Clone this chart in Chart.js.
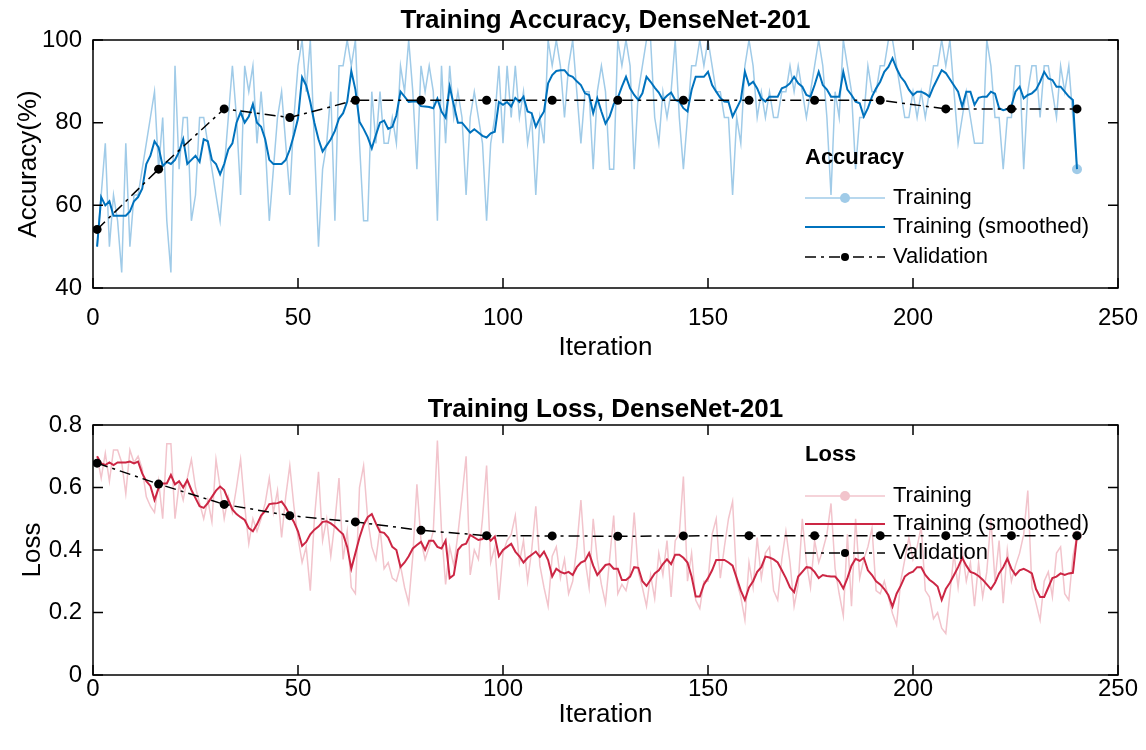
<!DOCTYPE html>
<html>
<head>
<meta charset="utf-8">
<script src="https://cdn.jsdelivr.net/npm/chart.js@4.4.1/dist/chart.umd.min.js"></script>
<style>
  html, body { margin: 0; padding: 0; background: #fff; }
  #wrap { position: relative; width: 1146px; height: 750px; }
  canvas { position: absolute; left: 0; }
</style>
</head>
<body>
<div id="wrap">
  <canvas id="accCanvas" width="1146" height="375" style="top:0"></canvas>
  <canvas id="lossCanvas" width="1146" height="375" style="top:375px"></canvas>
</div>
<script>
const FONT = "'Liberation Sans', Arial, Helvetica, sans-serif";

// tick labels
const xTicks = [0, 50, 100, 150, 200, 250];
const accTicks = [40, 60, 80, 100];
const lossTicks = [0, 0.2, 0.4, 0.6, 0.8];

// validation runs every 16 iterations
const valIters = [1, 16, 32, 48, 64, 80, 96, 112, 128, 144, 160, 176, 192, 208, 224, 240];
const valAcc = [54.17, 68.75, 83.33, 81.25, 85.42, 85.42, 85.42, 85.42, 85.42, 85.42, 85.42, 85.42, 85.42, 83.33, 83.33, 83.33];
const valLoss = [0.678, 0.611, 0.546, 0.510, 0.490, 0.463, 0.446, 0.445, 0.444, 0.445, 0.446, 0.446, 0.446, 0.446, 0.446, 0.446];

// training accuracy per iteration (1..240)
const trainAcc = [
  50, 62.5, 75, 50, 62.5, 56.25, 43.75, 75, 50, 62.5,
  62.5, 68.75, 75, 81.25, 87.5, 68.75, 81.25, 56.25, 43.75, 93.75,
  68.75, 81.25, 81.25, 56.25, 62.5, 81.25, 81.25, 75, 68.75, 62.5,
  56.25, 68.75, 81.25, 93.75, 81.25, 62.5, 93.75, 87.5, 93.75, 75,
  87.5, 75, 56.25, 68.75, 81.25, 87.5, 75, 62.5, 81.25, 93.75,
  100, 87.5, 100, 75, 50, 68.75, 75, 87.5, 56.25, 93.75,
  93.75, 100, 93.75, 100, 75, 56.25, 56.25, 87.5, 75, 87.5,
  75, 75, 81.25, 75, 93.75, 87.5, 100, 87.5, 68.75, 93.75,
  87.5, 93.75, 87.5, 56.25, 93.75, 75, 93.75, 81.25, 87.5, 81.25,
  62.5, 81.25, 87.5, 81.25, 75, 56.25, 75, 81.25, 93.75, 75,
  93.75, 81.25, 93.75, 81.25, 87.5, 75, 81.25, 62.5, 81.25, 75,
  100, 93.75, 100, 93.75, 81.25, 93.75, 100, 87.5, 75, 87.5,
  87.5, 68.75, 87.5, 93.75, 87.5, 68.75, 68.75, 100, 93.75, 100,
  93.75, 68.75, 87.5, 93.75, 100, 100, 81.25, 75, 87.5, 81.25,
  87.5, 100, 81.25, 68.75, 81.25, 93.75, 93.75, 100, 93.75, 100,
  93.75, 87.5, 87.5, 81.25, 81.25, 62.5, 81.25, 75, 93.75, 100,
  93.75, 81.25, 87.5, 81.25, 87.5, 81.25, 81.25, 87.5, 87.5, 93.75,
  87.5, 93.75, 87.5, 81.25, 87.5, 93.75, 100, 93.75, 81.25, 62.5,
  87.5, 81.25, 100, 93.75, 87.5, 68.75, 81.25, 81.25, 93.75, 87.5,
  87.5, 93.75, 93.75, 100, 100, 93.75, 87.5, 81.25, 81.25, 87.5,
  81.25, 87.5, 81.25, 87.5, 93.75, 93.75, 100, 93.75, 100, 87.5,
  75, 81.25, 87.5, 81.25, 75, 75, 75, 100, 93.75, 81.25,
  81.25, 68.75, 81.25, 81.25, 93.75, 93.75, 68.75, 87.5, 93.75, 93.75,
  81.25, 93.75, 93.75, 87.5, 81.25, 93.75, 87.5, 93.75, 81.25, 68.75
];

const smoothAcc = [
  50, 62, 60, 61, 57.5, 57.5, 57.5, 57.5, 58.5, 61,
  62, 64, 70, 72, 75.5, 74, 69.5, 70.5, 70, 71,
  73, 76, 70, 71, 72, 70.5, 76, 75.5, 71, 70,
  67.5, 70, 73.5, 75, 80, 82.5, 80, 81.5, 84.5, 80,
  79, 76, 71, 70, 70, 70, 71, 73.5, 77, 81,
  91, 89, 85, 80, 76, 73, 74.5, 76, 78, 81,
  82.3, 85.1, 92.5, 88, 80.2, 78.5, 76.5, 73.8, 77, 80,
  80.5, 78.5, 79, 81.8, 87.5, 86.3, 85, 85.1, 85.1, 84,
  83.9, 83.8, 83.5, 85.8, 82.7, 81.2, 88.7, 84.3, 80, 80,
  78.8, 77.6, 78.4, 77.6, 76.8, 76.4, 77.4, 77.8, 85, 84.3,
  85, 83.9, 86, 85, 86.3, 82.7, 82.3, 79, 81.1, 82.7,
  89.5, 91.5, 92.5, 92.7, 92.7, 91.5, 91.1, 90, 89.1, 87.1,
  86.7, 82.3, 85.9, 82.7, 79.8, 81.5, 84.5, 86, 88.7, 91.1,
  88.3, 86.7, 85.5, 87.1, 91.1, 89.9, 88.5, 87.3, 85.5, 86.5,
  87.3, 85.5, 85.1, 83.5, 82.7, 87.9, 91.1, 91.1, 91.1, 92.3,
  89.1, 87.5, 86, 85.1, 85, 81.5, 83.5, 85.5, 92.3, 89.1,
  89.9, 88.3, 85.9, 85.1, 86.3, 86.3, 86.3, 88.3, 88.7, 89.5,
  91.1, 89.5, 88.7, 86.7, 86.3, 89.1, 92.3, 89.1, 88, 86.3,
  86.3, 86.3, 92.3, 88, 86.7, 85.1, 84.7, 81.5, 83.5, 86.3,
  88.3, 89.9, 92.3, 93.5, 95.6, 93.1, 91.1, 89.9, 88, 86.7,
  87.5, 87.5, 87, 86.3, 88.7, 90.7, 92.7, 92, 90.5, 89,
  87.5, 83.9, 87.5, 87.5, 84.3, 86, 86.3, 86.3, 87.5, 87,
  83.5, 83, 83.3, 84, 87.5, 88.7, 85.9, 86.7, 87.1, 88,
  89.9, 92.3, 90.7, 90.3, 88.7, 88.7, 87.5, 86.3, 85.5, 68.75
];

// training loss per iteration (1..240)
const trainLoss = [
  0.70, 0.63, 0.71, 0.62, 0.72, 0.72, 0.68, 0.58, 0.72, 0.68,
  0.70, 0.66, 0.57, 0.54, 0.52, 0.62, 0.50, 0.74, 0.74, 0.50,
  0.61, 0.56, 0.63, 0.69, 0.60, 0.55, 0.50, 0.56, 0.49, 0.69,
  0.60, 0.50, 0.57, 0.52, 0.60, 0.69, 0.54, 0.42, 0.50, 0.46,
  0.50, 0.55, 0.63, 0.52, 0.59, 0.44, 0.57, 0.67, 0.54, 0.44,
  0.36, 0.41, 0.27, 0.50, 0.65, 0.43, 0.50, 0.38, 0.49, 0.63,
  0.37, 0.46, 0.28, 0.26, 0.60, 0.67, 0.50, 0.41, 0.37, 0.47,
  0.34, 0.36, 0.31, 0.30, 0.35, 0.28, 0.23, 0.38, 0.61, 0.43,
  0.37, 0.41, 0.46, 0.75, 0.46, 0.29, 0.41, 0.35, 0.45, 0.57,
  0.70, 0.32, 0.40, 0.37, 0.50, 0.67, 0.36, 0.41, 0.24, 0.39,
  0.43, 0.45, 0.51, 0.36, 0.43, 0.30, 0.40, 0.54, 0.35, 0.28,
  0.22, 0.38, 0.41, 0.31, 0.37, 0.26, 0.30, 0.41, 0.56, 0.37,
  0.28, 0.50, 0.37, 0.29, 0.23, 0.37, 0.51, 0.26, 0.29, 0.27,
  0.33, 0.52, 0.33, 0.28, 0.22, 0.32, 0.245, 0.39, 0.32, 0.43,
  0.25, 0.43, 0.45, 0.635, 0.30, 0.39, 0.24, 0.213, 0.30, 0.30,
  0.45, 0.50, 0.31, 0.41, 0.50, 0.555, 0.30, 0.25, 0.176, 0.36,
  0.28, 0.44, 0.31, 0.39, 0.41, 0.27, 0.24, 0.37, 0.46, 0.36,
  0.22, 0.29, 0.50, 0.36, 0.28, 0.43, 0.36, 0.40, 0.45, 0.549,
  0.34, 0.26, 0.19, 0.45, 0.22, 0.50, 0.31, 0.37, 0.41, 0.47,
  0.27, 0.26, 0.30, 0.25, 0.197, 0.16, 0.30, 0.37, 0.44, 0.37,
  0.41, 0.475, 0.27, 0.25, 0.18, 0.20, 0.15, 0.133, 0.26, 0.39,
  0.28, 0.40, 0.30, 0.36, 0.22, 0.36, 0.25, 0.33, 0.50, 0.30,
  0.43, 0.23, 0.40, 0.30, 0.35, 0.39, 0.45, 0.59, 0.28, 0.23,
  0.176, 0.30, 0.33, 0.25, 0.39, 0.41, 0.26, 0.24, 0.38, 0.446
];

const smoothLoss = [
  0.70, 0.677, 0.672, 0.68, 0.672, 0.68, 0.68, 0.68, 0.683, 0.677,
  0.683, 0.645, 0.62, 0.605, 0.56, 0.598, 0.613, 0.613, 0.64, 0.61,
  0.62, 0.60, 0.624, 0.592, 0.566, 0.54, 0.535, 0.55, 0.57, 0.59,
  0.603, 0.592, 0.56, 0.53, 0.515, 0.505, 0.496, 0.47, 0.46, 0.482,
  0.51, 0.525, 0.547, 0.549, 0.55, 0.555, 0.537, 0.512, 0.49, 0.46,
  0.413, 0.426, 0.45, 0.465, 0.475, 0.49, 0.492, 0.485, 0.475, 0.462,
  0.45, 0.41, 0.34, 0.39, 0.44, 0.48, 0.505, 0.515, 0.485, 0.458,
  0.455, 0.44, 0.41, 0.40, 0.346, 0.36, 0.38, 0.405, 0.416, 0.426,
  0.40, 0.43, 0.43, 0.41, 0.405, 0.43, 0.31, 0.32, 0.40, 0.416,
  0.42, 0.448, 0.44, 0.432, 0.435, 0.448, 0.43, 0.443, 0.38, 0.40,
  0.41, 0.42, 0.395, 0.38, 0.36, 0.375, 0.385, 0.395, 0.378, 0.395,
  0.368, 0.315, 0.34, 0.33, 0.325, 0.33, 0.32, 0.345, 0.36, 0.366,
  0.39, 0.35, 0.32, 0.336, 0.352, 0.355, 0.34, 0.34, 0.304, 0.304,
  0.315, 0.345, 0.343, 0.30, 0.285, 0.305, 0.325, 0.335, 0.355, 0.37,
  0.355, 0.385, 0.385, 0.375, 0.36, 0.315, 0.251, 0.251, 0.29, 0.31,
  0.335, 0.368, 0.368, 0.368, 0.36, 0.35, 0.31, 0.27, 0.24, 0.28,
  0.30, 0.33, 0.345, 0.379, 0.376, 0.37, 0.36, 0.335, 0.31, 0.28,
  0.265, 0.315, 0.33, 0.345, 0.343, 0.33, 0.31, 0.32, 0.317, 0.315,
  0.315, 0.30, 0.277, 0.31, 0.35, 0.372, 0.365, 0.375, 0.335, 0.32,
  0.30, 0.29, 0.275, 0.255, 0.219, 0.26, 0.285, 0.315, 0.325, 0.331,
  0.345, 0.345, 0.32, 0.305, 0.295, 0.283, 0.24, 0.275, 0.295, 0.32,
  0.345, 0.375, 0.35, 0.33, 0.325, 0.317, 0.305, 0.29, 0.275, 0.295,
  0.325, 0.345, 0.372, 0.34, 0.32, 0.335, 0.34, 0.333, 0.325, 0.275,
  0.25, 0.25, 0.28, 0.31, 0.315, 0.325, 0.32, 0.325, 0.327, 0.446
];

const toXY = vals => vals.map((v, k) => ({x: k + 1, y: v}));
const valXY = vals => vals.map((v, k) => ({x: valIters[k], y: v}));

// box, inward tick marks, title and legend (MATLAB look)
const framePlugin = {
  id: 'frame',
  afterDatasetsDraw(chart, args, opts) {
    const {ctx, chartArea: a, scales: {x, y}} = chart;
    ctx.save();
    ctx.strokeStyle = '#000';
    ctx.lineWidth = 1.5;
    ctx.beginPath();
    xTicks.forEach(v => {
      const px = x.getPixelForValue(v);
      ctx.moveTo(px, a.bottom); ctx.lineTo(px, a.bottom - 10);
      ctx.moveTo(px, a.top); ctx.lineTo(px, a.top + 10);
    });
    opts.yTicks.forEach(v => {
      const py = y.getPixelForValue(v);
      ctx.moveTo(a.left, py); ctx.lineTo(a.left + 10, py);
      ctx.moveTo(a.right, py); ctx.lineTo(a.right - 10, py);
    });
    ctx.stroke();
    ctx.strokeRect(a.left, a.top, a.right - a.left, a.bottom - a.top);

    ctx.fillStyle = '#000';
    ctx.font = 'bold 26px ' + FONT;
    ctx.textAlign = 'center';
    ctx.textBaseline = 'alphabetic';
    ctx.fillText(opts.title, (a.left + a.right) / 2, opts.titleY);

    // legend
    const lg = opts.legend;
    ctx.textAlign = 'left';
    ctx.textBaseline = 'middle';
    ctx.font = 'bold 22px ' + FONT;
    ctx.fillText(lg.title, lg.x, lg.titleY);
    ctx.font = '22px ' + FONT;
    chart.data.datasets.forEach((d, k) => {
      const ry = lg.rows[k];
      ctx.strokeStyle = d.borderColor;
      ctx.lineWidth = d.borderWidth;
      ctx.setLineDash(d.borderDash || []);
      ctx.beginPath();
      ctx.moveTo(lg.x, ry); ctx.lineTo(lg.x + 80, ry);
      ctx.stroke();
      ctx.setLineDash([]);
      if (k !== 1) {
        ctx.fillStyle = k === 0 ? d.borderColor : '#000';
        ctx.beginPath();
        ctx.arc(lg.x + 40, ry, k === 0 ? 5 : 4, 0, Math.PI * 2);
        ctx.fill();
      }
      ctx.fillStyle = '#000';
      ctx.fillText(d.label, lg.x + 88, ry);
    });
    ctx.restore();
  }
};

function makeChart(id, cfg) {
  const last = cfg.train.length - 1;
  return new Chart(document.getElementById(id), {
    type: 'line',
    data: {
      datasets: [{
        label: 'Training',
        data: toXY(cfg.train),
        borderColor: cfg.rawColor,
        backgroundColor: cfg.rawColor,
        borderWidth: 1.5,
        tension: 0,
        pointRadius: c => c.dataIndex === last ? 5 : 0,
        pointBorderWidth: 0,
        order: 2
      }, {
        label: 'Training (smoothed)',
        data: toXY(cfg.smooth),
        borderColor: cfg.smoothColor,
        borderWidth: 2,
        tension: 0,
        pointRadius: 0,
        order: 1
      }, {
        label: 'Validation',
        data: valXY(cfg.val),
        borderColor: '#000',
        backgroundColor: '#000',
        borderWidth: 1.5,
        borderDash: [11, 5, 3, 5],
        tension: 0,
        pointRadius: 4.5,
        pointBorderWidth: 0,
        order: 0
      }]
    },
    options: {
      responsive: false,
      animation: false,
      devicePixelRatio: 1,
      layout: {padding: {top: cfg.padTop, right: 28, left: 0, bottom: 0}},
      plugins: {
        legend: {display: false},
        tooltip: {enabled: false},
        frame: {yTicks: cfg.yTicks, title: cfg.title, titleY: cfg.titleY, legend: cfg.legend}
      },
      scales: {
        x: {
          type: 'linear', min: 0, max: 250,
          afterBuildTicks: s => { s.ticks = xTicks.map(v => ({value: v})); },
          ticks: {color: '#000', font: {family: FONT, size: 24}, padding: cfg.xTickPad, maxRotation: 0, autoSkip: false},
          grid: {display: false, drawTicks: false},
          border: {display: false},
          title: {display: true, text: 'Iteration', color: '#000', font: {family: FONT, size: 26}, padding: {top: 0, bottom: cfg.xTitlePad}},
          afterFit: s => { s.height = cfg.xHeight; s.paddingLeft = 0; s.paddingRight = 0; }
        },
        y: {
          type: 'linear', min: cfg.yMin, max: cfg.yMax,
          afterBuildTicks: s => { s.ticks = cfg.yTicks.map(v => ({value: v})); },
          ticks: {color: '#000', font: {family: FONT, size: 24}, padding: 11, callback: v => String(v)},
          grid: {display: false, drawTicks: false},
          border: {display: false},
          title: {display: true, text: cfg.yLabel, color: '#000', font: {family: FONT, size: 26}, padding: {top: cfg.yTitlePad, bottom: 0}},
          afterFit: s => { s.width = 93; s.paddingTop = 0; s.paddingBottom = 0; }
        }
      }
    },
    plugins: [framePlugin]
  });
}

makeChart('accCanvas', {
  train: trainAcc, smooth: smoothAcc, val: valAcc,
  rawColor: 'rgb(160,203,232)', smoothColor: 'rgb(0,114,189)',
  yMin: 40, yMax: 100, yTicks: accTicks, yLabel: 'Accuracy(%)',
  title: 'Training Accuracy, DenseNet-201', titleY: 28,
  padTop: 40, xHeight: 87, xTickPad: 15.6, xTitlePad: 11.4, yTitlePad: 13,
  legend: {title: 'Accuracy', x: 805, titleY: 158, rows: [198, 227, 257]}
});

makeChart('lossCanvas', {
  train: trainLoss, smooth: smoothLoss, val: valLoss,
  rawColor: 'rgb(242,196,204)', smoothColor: 'rgb(204,38,68)',
  yMin: 0, yMax: 0.8, yTicks: lossTicks, yLabel: 'Loss',
  title: 'Training Loss, DenseNet-201', titleY: 42,
  padTop: 50, xHeight: 75, xTickPad: 0, xTitlePad: 19.4, yTitlePad: 17.4,
  legend: {title: 'Loss', x: 805, titleY: 80, rows: [121, 149, 178]}
});
</script>
</body>
</html>
